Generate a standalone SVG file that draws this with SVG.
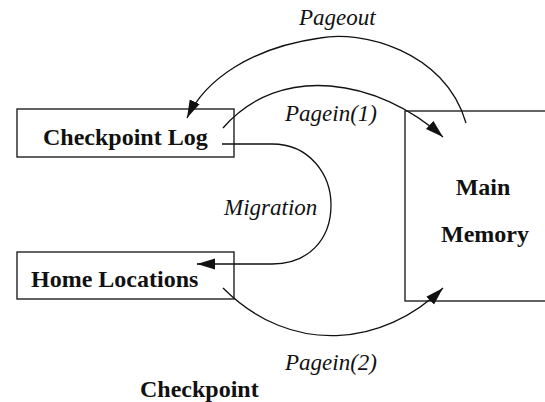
<svg xmlns="http://www.w3.org/2000/svg" width="545" height="402" viewBox="0 0 545 402">
  <style>
    .box { fill: #ffffff; stroke: #222222; stroke-width: 1.4; }
    .edge { fill: none; stroke: #111111; stroke-width: 1.3; marker-end: url(#arrow); }
    .plain { fill: none; stroke: #111111; stroke-width: 1.3; }
    .node-label { font-family: "Liberation Serif", "Times New Roman", serif; font-weight: bold; font-size: 24px; fill: #111111; }
    .edge-label { font-family: "Liberation Serif", "Times New Roman", serif; font-style: italic; font-size: 23px; fill: #111111; }
  </style>
  <defs>
    <marker id="arrow" markerUnits="userSpaceOnUse" markerWidth="20" markerHeight="12" refX="18" refY="6" orient="auto">
      <path d="M0,0.5 L18,6 L0,11.5 Z" fill="#111111"/>
    </marker>
  </defs>

  <rect width="545" height="402" fill="#ffffff"/>

  <!-- storage areas -->
  <g id="checkpoint-log">
    <rect class="box" x="17" y="109" width="217" height="48"/>
    <text class="node-label" x="43" y="145">Checkpoint Log</text>
  </g>
  <g id="home-locations">
    <rect class="box" x="17" y="252" width="217" height="47"/>
    <text class="node-label" x="31" y="287">Home Locations</text>
  </g>
  <g id="main-memory">
    <rect class="box" x="405" y="111" width="160" height="190"/>
    <text class="node-label" x="483" y="195" text-anchor="middle">Main</text>
    <text class="node-label" x="485" y="242" text-anchor="middle">Memory</text>
  </g>
  <g id="checkpoint-caption">
    <text class="node-label" x="140" y="397">Checkpoint</text>
  </g>

  <!-- transfers between the areas -->
  <g id="connectors">
    <path id="pageout" class="edge" d="M466,123 C445,50 360,30 320,38 C250,48 205,80 187,118"/>
    <path id="pagein-1" class="edge" d="M223,128 C280,62 379,79 443,137"/>
    <path id="migration" class="edge" d="M222,144 H272 C310,144 331,175 331,205 C331,240 308,264 272,264 H197"/>
    <path id="pagein-2" class="edge" d="M223,288 C292,357 384,346 443,288"/>
  </g>

  <g id="connector-labels">
    <text class="edge-label" x="299" y="25">Pageout</text>
    <text class="edge-label" x="285" y="121">Pagein(1)</text>
    <text class="edge-label" x="224" y="215">Migration</text>
    <text class="edge-label" x="285" y="370">Pagein(2)</text>
  </g>
</svg>
